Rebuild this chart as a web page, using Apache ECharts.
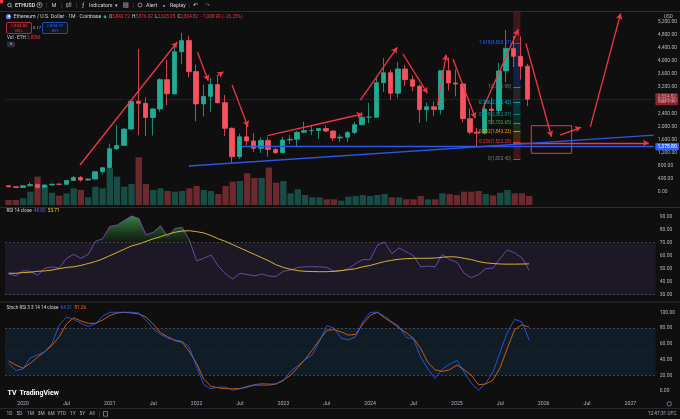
<!DOCTYPE html>
<html>
<head>
<meta charset="utf-8">
<title>ETHUSD 1M</title>
<script src="https://cdn.jsdelivr.net/npm/echarts@6.0.0/dist/echarts.min.js"></script>
<style>
html,body{margin:0;padding:0;background:#0f0f0f;overflow:hidden}
#chart{width:680px;height:419px}
</style>
</head>
<body>
<div id="chart"></div>
<script>
// ---------------- DATA ----------------
const months = ['2019-11','2019-12',
 '2020-01','2020-02','2020-03','2020-04','2020-05','2020-06','2020-07','2020-08','2020-09','2020-10','2020-11','2020-12',
 '2021-01','2021-02','2021-03','2021-04','2021-05','2021-06','2021-07','2021-08','2021-09','2021-10','2021-11','2021-12',
 '2022-01','2022-02','2022-03','2022-04','2022-05','2022-06','2022-07','2022-08','2022-09','2022-10','2022-11','2022-12',
 '2023-01','2023-02','2023-03','2023-04','2023-05','2023-06','2023-07','2023-08','2023-09','2023-10','2023-11','2023-12',
 '2024-01','2024-02','2024-03','2024-04','2024-05','2024-06','2024-07','2024-08','2024-09','2024-10','2024-11','2024-12',
 '2025-01','2025-02','2025-03','2025-04','2025-05','2025-06','2025-07','2025-08','2025-09','2025-10','2025-11'];

const open = [183,152,
 130,180,217,133,206,231,226,345,435,360,386,613,
 737,1315,1417,1919,2773,2707,2275,2536,3433,3000,4288,4630,
 3680,2690,2920,3280,2727,1942,1070,1680,1554,1328,1572,1295,
 1196,1585,1605,1822,1870,1873,1934,1857,1645,1671,1815,2052,
 2282,2283,3340,3645,3015,3760,3433,3232,2513,2602,2518,3705,
 3332,3300,2237,1823,1794,2530,2486,3700,4390,4146,3843.72];
const high = [193,155,
 186,288,253,227,245,255,350,488,482,420,622,760,
 1475,2040,1945,2800,4380,2890,2550,3470,4030,4460,4868,4780,
 3900,3280,3480,3580,2960,1970,1780,2030,1790,1660,1680,1350,
 1680,1740,1860,2140,2010,1940,2030,1880,1750,1865,2140,2450,
 2715,3520,4095,3730,3975,3890,3560,3280,2730,2770,3720,4110,
 3745,3330,2550,1955,2740,2880,3940,4955,4770,4755,3916.92];
const low = [131,117,
 126,178,90,130,176,216,223,342,308,335,371,535,
 715,1275,1400,1900,1730,1700,1720,2450,2650,2970,3900,3500,
 2160,2300,2450,2700,1700,880,1000,1420,1220,1190,1074,1160,
 1190,1460,1370,1780,1740,1620,1830,1550,1530,1520,1770,2040,
 2100,2260,3060,2810,2865,3240,3080,2110,2150,2310,2360,3100,
 2920,2120,1760,1385,1750,2110,2375,3355,3820,3435,2623.05];
const close = [152,130,
 180,217,133,206,231,226,345,435,360,386,613,737,
 1315,1417,1919,2773,2707,2275,2536,3433,3000,4288,4630,3680,
 2690,2920,3280,2727,1942,1070,1680,1554,1328,1572,1295,1196,
 1585,1605,1822,1870,1873,1934,1857,1645,1671,1815,2052,2282,
 2283,3340,3645,3015,3760,3433,3232,2513,2602,2518,3705,3332,
 3300,2237,1823,1794,2530,2486,3700,4390,4146,3843.72,2834.82];
// volume, millions of ETH
const volume = [1.57,1.57,
 2.10,4.18,8.89,6.28,3.86,2.92,3.67,5.24,4.71,2.42,5.75,5.24,
 11.52,8.89,5.75,6.59,14.98,6.59,4.71,5.24,4.40,4.18,4.40,5.24,
 5.97,4.71,4.40,3.45,5.97,7.32,7.54,9.95,8.48,8.48,11.71,7.00,
 7.54,3.67,4.93,3.14,2.42,2.42,1.79,1.79,1.35,2.61,2.83,3.14,
 2.83,3.14,3.45,2.42,2.42,1.79,1.79,2.83,1.79,1.79,3.67,3.45,
 3.14,4.18,4.18,4.40,3.45,2.98,3.86,4.71,3.67,3.67,2.83];
const rsi = [46,44.5,
 48.5,48,45,50.3,51.5,50.5,58,61,58,61,71,73,
 82.5,83.5,87,90.5,88.7,76,78,83,74.6,81,81.8,72,
 56,58,60.5,52,46,42,46.5,45.5,44.5,46,44.4,44,
 48,49,51,51.5,51.5,51.5,51,48,48.5,50,54,57,
 57,68,70.5,61.5,66,63,60,51.5,52,51.5,61,57,
 55,46.5,43,45.5,50,50.5,58,64.5,62,58.5,48.8];
const rsiMA = [46.5,46.5,
 47,47.3,48,48.3,49,50,51,51.5,52.5,54,55.5,57.5,
 60,62.5,65,67.5,69,71,73,74.6,76.5,78,79,79.2,
 78.5,77.5,75.5,73,71,68.5,66,63.5,61,58.5,56,53,
 51,49.5,48.5,48,47.8,47.7,47.7,48,48.5,49.2,50,51.5,
 52.5,54,55.5,56.5,57.3,57.7,58,58,58,58.2,58.8,59.2,
 59,58,57,55.5,54.5,54,53.6,53.5,53.5,53.6,53.71];
const stochK = [35,26,
 28,42,46,50,60,84,94,91,86,82,85,95,
 100,100,100,100,99,90,79,72,67,65,63,55,
 31,8,3,5,5,1,3,6,8,9.5,9,9,
 13,25,32,40,46,63,83,80,67,65,69,88,
 100,100,95,88,82,68,66,43,28,16,28,34,
 39,24,10,1,10,24,50,75,91,88,64.51];
const stochD = [38,33,
 29,35,43,50,58,69,85,93,89,86,86,90,
 96,99,100,99,98,94,85,74,69,64,62,50,
 35,15,6,4,3,3,3,5,7.5,7.6,7.6,9,
 14,20,30,40,52,65,77,78,75,71,72,85,
 96,100,93,87,80,74,67,54,36,27,25,27,
 33,27,20,8,9,14,30,55,78,84,81.26];

const timeLabels = ['2020','Jul','2021','Jul','2022','Jul','2023','Jul','2024','Jul','2025','Jul','2026','Jul','2027'];

const fibLevels = ['0','0.236','0.382','0.5','0.618','0.786','1','1.618','2.618'];
const fibPrices = [1003.40,1522.25,1843.23,2102.65,2362.07,2731.42,3201.90,4560.57,6759.03];
const fibColors = ['#787b86','#f23645','#ff9800','#4caf50','#089981','#00bcd4','#787b86','#2962ff','#f23645'];
const fibSpan = [68, 69];            // month index (0 = Jan 2020)

// drawings: [monthIndex, price]
const redArrows = [
 [[7.9, 818],[21.4, 4585]],
 [[24.2, 4270],[25.7, 3400]],
 [[26.9, 3544],[27.8, 3676]],
 [[29.0, 3268],[31.2, 1991]],
 [[33.9, 1715],[47.1, 2380]],
 [[46.8, 2808],[51.9, 4423]],
 [[52.7, 4217],[56.1, 3014]],
 [[57.5, 2650],[58.7, 4200]],
 [[59.65, 4055],[62.75, 2248]],
 [[63.7, 2502],[68.7, 4974]],
 [[69.75, 4545],[73.3, 1684]],
 [[74.5, 1734],[77.4, 1972]],
 [[78.7, 1991],[82.9, 5464]],
 [[68, 1490],[86.8, 1490]]
];
const redBox = [[70.5, 2021],[76.1, 1176]];
const blueTrend = [[23, 787],[87.5, 1733]];
const blueRay = [[30.4, 1378.8],[87.5, 1378.8]];

const lastPrice = 2834.82, lastVol = 2.83;
const rsiBand = [30, 70], stochBand = [20, 80];

// ---------------- CHART ----------------
const F = 'Roboto, "Liberation Sans", sans-serif';
const UP = '#22ab94', DN = '#f7525f';
const fmt2 = v => v.toLocaleString('en-US',{minimumFractionDigits:2, maximumFractionDigits:2});
const mIndex = s => (parseInt(s.slice(0,4),10)-2020)*12 + parseInt(s.slice(5,7),10)-1;
const xs = months.map(mIndex);

const candleData = months.map((s,i)=>[xs[i], open[i], close[i], low[i], high[i]]);
const volData = months.map((s,i)=>({value:[xs[i], volume[i]],
  itemStyle:{color: close[i]>=open[i] ? 'rgba(34,171,148,0.4)' : 'rgba(247,82,95,0.4)'}}));
const pair = (arr, fn) => xs.map((x,i)=>[x, fn ? fn(arr[i]) : arr[i]]);

function axisLabelBox(value, text, bg, fg){
  return {yAxis:value, symbol:'none', lineStyle:{opacity:0},
    label:{show:true, position:'end', distance:1.5, formatter:text, backgroundColor:bg, color:fg||'#fff',
      fontSize:5, fontFamily:F, padding:[1.2,2.2,1,2.2], borderRadius:1}};
}

// drawings markLines
const drawLines = [];
redArrows.forEach(a=>{
  drawLines.push([{coord:a[0], symbol:'none', lineStyle:{color:'#f23645', width:1.3, type:'solid'}}, {coord:a[1], symbol:'arrow', symbolSize:[5,6]}]);
});
drawLines.push([{coord:blueTrend[0], symbol:'none', lineStyle:{color:'#2f55e6', width:1.3, type:'solid'}}, {coord:blueTrend[1], symbol:'none'}]);
drawLines.push([{coord:blueRay[0], symbol:'none', lineStyle:{color:'#2f55e6', width:1.3, type:'solid'},
  label:{show:true, position:'end', distance:1.5, formatter:fmt2(blueRay[0][1]), backgroundColor:'#2962ff', color:'#fff', fontSize:5, fontFamily:F, padding:[1.2,2.2,1,2.2], borderRadius:1}},
  {coord:blueRay[1], symbol:'none'}]);
for (let i=0;i<fibLevels.length-1;i++){
  drawLines.push([{coord:[fibSpan[0], fibPrices[i]], symbol:'none', lineStyle:{color:fibColors[i], width:0.8, type:'solid'},
    label:{show:true, position:'start', distance:2, formatter:fibLevels[i]+'('+fmt2(fibPrices[i])+')', color:fibColors[i], fontSize:4.6, fontFamily:F}},
    {coord:[fibSpan[1], fibPrices[i]], symbol:'none'}]);
}
const fibAreas = [];
for (let i=0;i<fibLevels.length-1;i++){
  fibAreas.push([{coord:[fibSpan[0], fibPrices[i]], itemStyle:{color:fibColors[i+1], opacity:0.22}}, {coord:[fibSpan[1], fibPrices[i+1]]}]);
}
fibAreas.push([{coord:redBox[0], itemStyle:{color:'rgba(0,0,0,0)', borderColor:'#f23645', borderWidth:1}}, {coord:redBox[1]}]);

const chart = echarts.init(document.getElementById('chart'), null, {renderer:'canvas'});
const xBase = {type:'value', min:-2.5, max:87.5, show:false};
const yLab = (fmt)=>({color:'#b2b5be', fontSize:5, fontFamily:F, margin:4, formatter:fmt});
const noAxis = {axisLine:{show:false}, axisTick:{show:false}, splitLine:{show:false}};

// chrome / text
function T(x,y,text,size,fill,opts){
  opts = opts||{};
  return {type:'text', x:x, y:y, z:110, silent:true,
    style:Object.assign({text:text, fill:fill, fontSize:size, fontFamily:F, fontWeight:opts.weight||'normal',
      align:opts.align||'left', verticalAlign:'middle'}, opts.style||{})};
}
function L(x1,y1,x2,y2,c,w){ return {type:'line', z:105, silent:true, shape:{x1,y1,x2,y2}, style:{stroke:c, lineWidth:w||1}}; }
const G = '#d1d4dc', GR = '#b2b5be';
const elements = [
  {type:'rect', z:100, silent:true, shape:{x:0,y:0,width:680,height:11.5}, style:{fill:'#0f0f0f'}},
  L(0,11.5,680,11.5,'#2a2e39',1),
  {type:'circle', z:110, shape:{cx:1.5,cy:1.5,r:2}, style:{fill:'#f23645'}},
  {type:'circle', z:110, shape:{cx:9.5,cy:5,r:1.8}, style:{stroke:G, fill:'none', lineWidth:0.7}},
  L(10.8,6.3,12,7.5,G,0.7),
  T(15,5.5,'ETHUSD',5.3,G,{weight:'bold'}),
  {type:'circle', z:110, shape:{cx:39.5,cy:5,r:2.6}, style:{stroke:G, fill:'none', lineWidth:0.6}},
  T(39.5,5.2,'+',4.5,G,{align:'center'}),
  L(46.7,2.5,46.7,8,'#434651',0.6),
  T(54,5.5,'M',5.3,G,{align:'center'}),
  L(61.7,2.5,61.7,8,'#434651',0.6),
  {type:'rect', z:110, shape:{x:66.5,y:3.5,width:1.6,height:3.5}, style:{stroke:G, fill:'none', lineWidth:0.5}},
  {type:'rect', z:110, shape:{x:69.3,y:2.8,width:1.6,height:3.5}, style:{stroke:G, fill:'none', lineWidth:0.5}},
  L(76.7,2.5,76.7,8,'#434651',0.6),
  T(83.3,5.3,'ƒ',5.5,G,{align:'center'}),
  T(89,5.5,'Indicators',5.3,G),
  T(116,5.5,'▾',4.5,G,{align:'center'}),
  {type:'rect', z:110, shape:{x:123.5,y:2.8,width:1.8,height:1.8}, style:{stroke:G, fill:'none', lineWidth:0.5}},
  {type:'rect', z:110, shape:{x:126.3,y:2.8,width:1.8,height:1.8}, style:{stroke:G, fill:'none', lineWidth:0.5}},
  {type:'rect', z:110, shape:{x:123.5,y:5.6,width:1.8,height:1.8}, style:{stroke:G, fill:'none', lineWidth:0.5}},
  {type:'rect', z:110, shape:{x:126.3,y:5.6,width:1.8,height:1.8}, style:{stroke:G, fill:'none', lineWidth:0.5}},
  L(133.3,2.5,133.3,8,'#434651',0.6),
  {type:'circle', z:110, shape:{cx:140,cy:5,r:2}, style:{stroke:G, fill:'none', lineWidth:0.6}},
  T(146,5.5,'Alert',5.3,G),
  T(164,5.3,'«',6,G,{align:'center'}),
  T(170,5.5,'Replay',5.3,G),
  L(189.3,2.5,189.3,8,'#434651',0.6),
  T(195,5.3,'↶',6,G,{align:'center'}),
  T(207,5.3,'↷',6,'#6a6d78',{align:'center'}),
  // legend
  {type:'circle', z:110, shape:{cx:8.5,cy:16.7,r:2.6}, style:{fill:'#627eea'}},
  T(8.5,16.7,'◆',3,'#ffffff',{align:'center'}),
  T(13.5,16.8,'Ethereum / U.S. Dollar · 1M · Coinbase',5.2,G),
  {type:'circle', z:110, shape:{cx:105,cy:16.7,r:1.5}, style:{fill:'#22ab94'}},
  {type:'text', x:109, y:16.9, z:110, silent:true, style:{
    text:'{g|O}{r|3,843.72}  {g|H}{r|3,916.92}  {g|L}{r|2,623.05}  {g|C}{r|2,834.82}  {r|−1,008.90 (−26.25%)}',
    fontSize:4.6, fontFamily:F, verticalAlign:'middle',
    rich:{g:{fill:G, fontSize:4.6, fontFamily:F}, r:{fill:'#f23645', fontSize:4.6, fontFamily:F}}}},
  {type:'rect', z:110, shape:{x:6.5,y:22.5,width:25,height:11,r:1.5}, style:{stroke:'#f23645', fill:'rgba(242,54,69,0.06)', lineWidth:0.7}},
  T(19,26,'2,834.80',4.4,'#f23645',{align:'center'}),
  T(19,30.6,'SELL',3.8,'#f23645',{align:'center'}),
  T(37,28,'0.17',4,GR,{align:'center'}),
  {type:'rect', z:110, shape:{x:42.5,y:22.5,width:25,height:11,r:1.5}, style:{stroke:'#2962ff', fill:'rgba(41,98,255,0.06)', lineWidth:0.7}},
  T(55,26,'2,834.97',4.4,'#2962ff',{align:'center'}),
  T(55,30.6,'BUY',3.8,'#2962ff',{align:'center'}),
  T(7,37.9,'Vol · ETH',4.6,G),
  T(27,37.9,'2.83M',4.6,'#f23645'),
  {type:'rect', z:110, shape:{x:7,y:41.6,width:8,height:5.6,r:1}, style:{fill:'#2a2e39'}},
  T(11,44.8,'˄',5,G,{align:'center'}),
  T(664,16.8,'USD',4.6,GR),
  // pane separators
  L(0,207.5,680,207.5,'#2a2e39',1),
  L(0,302,680,302,'#2a2e39',1),
  L(0,408.5,680,408.5,'#2a2e39',0.8),
  // indicator legends
  {type:'text', x:6.5, y:211.2, z:110, silent:true, style:{
    text:'{g|RSI 14 close}  {p|48.80}  {y|53.71}', fontSize:4.6, fontFamily:F, verticalAlign:'middle',
    rich:{g:{fill:G,fontSize:4.6,fontFamily:F}, p:{fill:'#7e57c2',fontSize:4.6,fontFamily:F}, y:{fill:'#fdd835',fontSize:4.6,fontFamily:F}}}},
  {type:'text', x:6.5, y:307.8, z:110, silent:true, style:{
    text:'{g|Stoch RSI 3 3 14 14 close}  {b|64.51}  {o|81.26}', fontSize:4.6, fontFamily:F, verticalAlign:'middle',
    rich:{g:{fill:G,fontSize:4.6,fontFamily:F}, b:{fill:'#2962ff',fontSize:4.6,fontFamily:F}, o:{fill:'#ff6d00',fontSize:4.6,fontFamily:F}}}},
  // logo
  T(7.5,392.8,'TV',7,'#ffffff',{weight:'bold'}),
  T(19.5,392.8,'TradingView',7,'#ffffff',{weight:'bold'}),
  // gear
  {type:'circle', z:110, shape:{cx:669.3,cy:403.8,r:2.2}, style:{stroke:GR, fill:'none', lineWidth:0.6}},
  // bottom bar
  T(9.5,414,'1D',4.8,GR,{align:'center'}),
  T(19.5,414,'5D',4.8,GR,{align:'center'}),
  T(30.4,414,'1M',4.8,GR,{align:'center'}),
  T(41.2,414,'3M',4.8,GR,{align:'center'}),
  T(51.2,414,'6M',4.8,GR,{align:'center'}),
  T(61.6,414,'YTD',4.8,GR,{align:'center'}),
  T(72.9,414,'1Y',4.8,GR,{align:'center'}),
  T(82.4,414,'5Y',4.8,GR,{align:'center'}),
  T(92,414,'All',4.8,GR,{align:'center'}),
  L(99.5,411,99.5,417,'#434651',0.6),
  {type:'rect', z:110, shape:{x:103.5,y:411.6,width:4,height:4.6}, style:{stroke:GR, fill:'none', lineWidth:0.6}},
  T(676.5,414,'12:47:31 UTC',4.8,GR,{align:'right'})
];

const dashed = c => ({color:c||'#787b86', type:[2,2], width:0.6, opacity:0.8});
const option = {
  backgroundColor:'#0f0f0f',
  animation:false,
  grid:[
    {left:5, right:24.3, top:8.88, bottom:214.24},
    {left:5, right:24.3, top:154, bottom:214},
    {left:5, right:24.3, top:203.7, bottom:111.3},
    {left:5, right:24.3, top:304.4, bottom:20.1}
  ],
  xAxis:[
    Object.assign({gridIndex:0}, xBase),
    Object.assign({gridIndex:1}, xBase),
    Object.assign({gridIndex:2}, xBase),
    {gridIndex:3, type:'value', min:-2.5, max:87.5, axisLine:{show:false}, axisTick:{show:false}, splitLine:{show:false},
     axisLabel:{customValues: timeLabels.map((t,i)=>i*6), color:GR, fontSize:5.2, fontFamily:F, margin:2,
       formatter:v=>timeLabels[Math.round(v/6)] || ''}}
  ],
  yAxis:[
    Object.assign({gridIndex:0, type:'value', position:'right', min:-400, max:5600, interval:400,
      axisLabel:yLab(v=> (v<0||v>5200) ? '' : fmt2(v))}, noAxis),
    {gridIndex:1, type:'value', min:0, max:16, show:false},
    Object.assign({gridIndex:2, type:'value', position:'right', min:20, max:100, interval:10,
      axisLabel:yLab(v=> (v<30||v>90) ? '' : v.toFixed(2))}, noAxis),
    Object.assign({gridIndex:3, type:'value', position:'right', min:-10, max:110, interval:10,
      axisLabel:yLab(v=> (v<0||v>100||v%20!==0) ? '' : v.toFixed(2))}, noAxis)
  ],
  graphic:{elements:elements},
  series:[
    {type:'bar', name:'Volume', xAxisIndex:1, yAxisIndex:1, data:volData, barWidth:6.3, silent:true, z:1,
     markLine:{silent:true, symbol:'none', data:[axisLabelBox(lastVol, lastVol.toFixed(2)+'M', '#f23645')]}},
    {type:'candlestick', name:'ETHUSD', xAxisIndex:0, yAxisIndex:0, data:candleData, encode:{x:0, y:[1,2,3,4]},
     barWidth:5, silent:true, z:3,
     itemStyle:{color:UP, color0:DN, borderColor:UP, borderColor0:DN, borderWidth:0.8},
     markLine:{silent:true, symbol:'none', data:[
       {yAxis:lastPrice, lineStyle:{color:'#f23645', type:'dotted', width:0.7, opacity:0.55},
        label:{show:true, position:'end', distance:1.5, formatter:fmt2(lastPrice)+'\n16d 11h', backgroundColor:'#f23645', color:'#fff',
          fontSize:4.8, lineHeight:5.2, fontFamily:F, padding:[1,2.2,0.6,2.2], borderRadius:1}}]}},
    {type:'line', name:'drawings', xAxisIndex:0, yAxisIndex:0, data:[], silent:true, z:4,
     markArea:{silent:true, label:{show:false}, data:fibAreas},
     markLine:{silent:true, symbol:['none','none'], lineStyle:{type:'solid'}, label:{show:false}, data:drawLines}},
    // RSI overbought fill (between RSI and the 70 band line)
    {type:'line', name:'obFill', xAxisIndex:2, yAxisIndex:2, data:pair(rsi, v=>Math.max(rsiBand[1], v)), symbol:'none', silent:true,
     lineStyle:{opacity:0}, z:1,
     areaStyle:{origin:rsiBand[1], color:new echarts.graphic.LinearGradient(0,0,0,1,[{offset:0,color:'rgba(80,200,90,0.9)'},{offset:1,color:'rgba(60,160,70,0.08)'}])}},
    {type:'line', name:'RSI', xAxisIndex:2, yAxisIndex:2, data:pair(rsi), symbol:'none', silent:true, z:3,
     lineStyle:{color:'#7e57c2', width:0.8},
     markArea:{silent:true, label:{show:false}, data:[[{yAxis:rsiBand[1], itemStyle:{color:'rgba(126,87,194,0.12)'}},{yAxis:rsiBand[0]}]]},
     markLine:{silent:true, symbol:'none', label:{show:false}, data:[
       {yAxis:rsiBand[1], lineStyle:dashed()},
       {yAxis:rsiBand[0], lineStyle:dashed()},
       {yAxis:50, lineStyle:{color:'#787b86', type:[1,2], width:0.5, opacity:0.25}},
       axisLabelBox(48.8, '48.80', '#7e57c2')]}},
    {type:'line', name:'RSI MA', xAxisIndex:2, yAxisIndex:2, data:pair(rsiMA), symbol:'none', silent:true, z:4,
     lineStyle:{color:'#e6c52e', width:0.9},
     markLine:{silent:true, symbol:'none', label:{show:false}, data:[axisLabelBox(53.71, '53.71', '#fdd835', '#131722')]}},
    // Stoch RSI
    {type:'line', name:'K', xAxisIndex:3, yAxisIndex:3, data:pair(stochK), symbol:'none', silent:true, z:4,
     lineStyle:{color:'#2962ff', width:0.8},
     markArea:{silent:true, label:{show:false}, data:[[{yAxis:stochBand[1], itemStyle:{color:'rgba(33,150,243,0.1)'}},{yAxis:stochBand[0]}]]},
     markLine:{silent:true, symbol:'none', label:{show:false}, data:[
       {yAxis:stochBand[1], lineStyle:dashed()},
       {yAxis:stochBand[0], lineStyle:dashed()},
       {yAxis:50, lineStyle:{color:'#787b86', type:[1,2], width:0.5, opacity:0.3}},
       axisLabelBox(64.51, '64.51', '#2962ff')]}},
    {type:'line', name:'D', xAxisIndex:3, yAxisIndex:3, data:pair(stochD), symbol:'none', silent:true, z:3,
     lineStyle:{color:'#ff6d00', width:0.8},
     markLine:{silent:true, symbol:'none', label:{show:false}, data:[axisLabelBox(81.26, '81.26', '#ff6d00')]}}
  ]
};
chart.setOption(option);
</script>
</body>
</html>
